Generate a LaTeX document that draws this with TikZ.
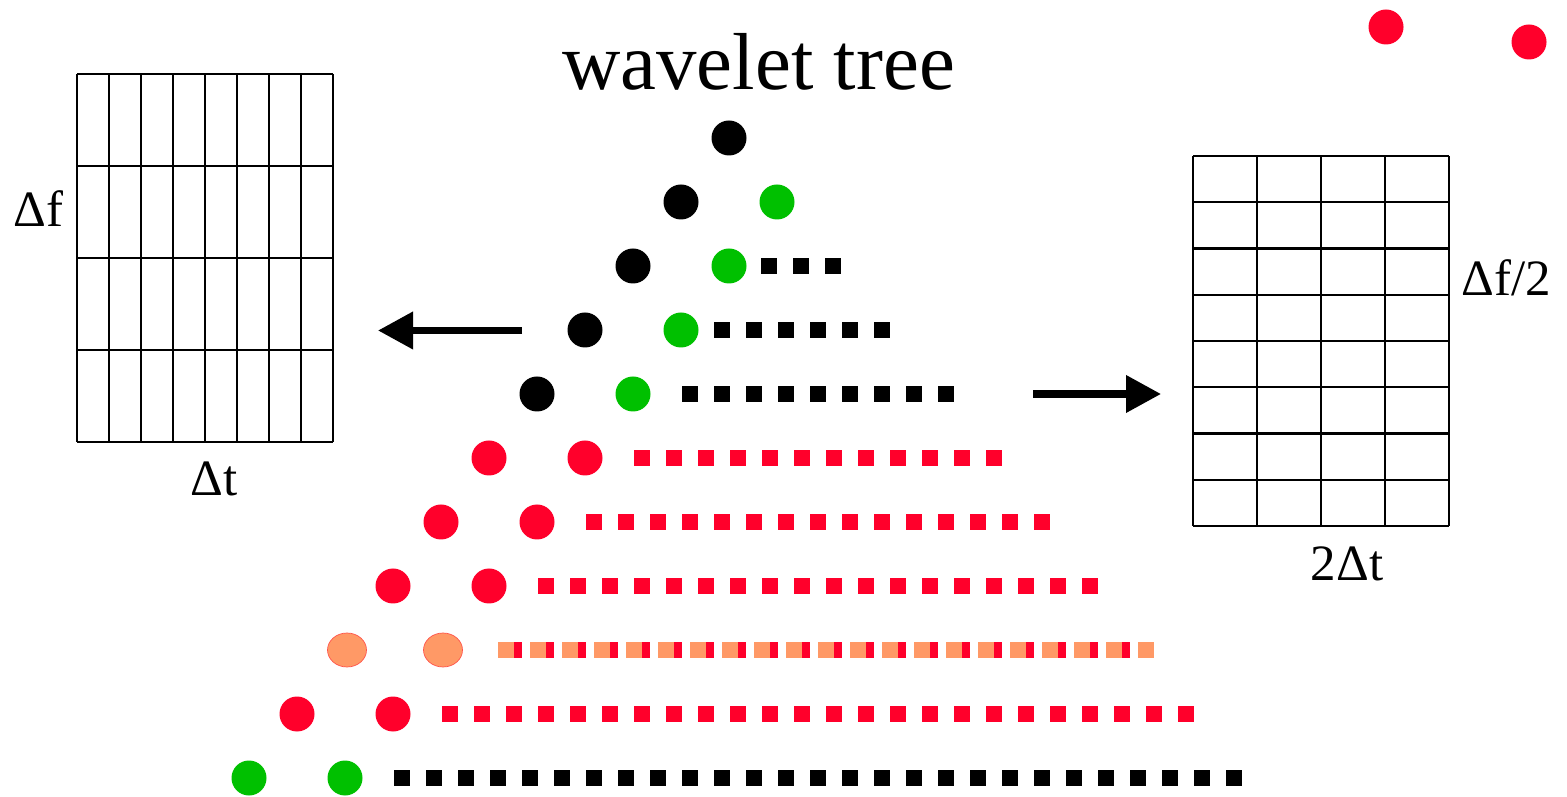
\documentclass[tikz,border=0pt]{standalone}
\usepackage{fontspec}
\setmainfont{Liberation Serif}
\usetikzlibrary{arrows.meta,shapes.geometric}
\definecolor{dotred}{RGB}{255,0,43}
\definecolor{dotgreen}{RGB}{0,192,0}
\definecolor{dotorange}{RGB}{255,153,102}
\tikzset{
  dot/.style={circle,inner sep=0pt,minimum size=3.5mm,fill=#1},
  oval/.style={ellipse,inner sep=0pt,minimum width=3.9mm,minimum height=3.4mm,
    fill=dotorange,draw=dotred!45!dotorange,line width=0.2pt},
  sq/.style={rectangle,inner sep=0pt,minimum size=1.6mm,fill=#1},
  cell/.style={line width=0.7pt},
  bigarrow/.style={line width=2pt,-{Triangle[length=3.5mm,width=3.6mm]}},
  lbl/.style={font=\fontsize{14.5}{17}\selectfont,inner sep=0pt}
}
\begin{document}
\begin{tikzpicture}[x=0.1mm,y=-0.1mm]
  \useasboundingbox (0,0) rectangle (1567,797);
  % title
  \node[font=\fontsize{23}{28}\selectfont,inner sep=0pt,anchor=base] (title) at (758.5,90) {wavelet tree};
  % the tree: row / left dot / right dot / squares / first left edge / square colour
  \node[dot=black] (a0) at (729,138) {};
  \node[dot=black] (a1) at (681,202) {};
  \node[dot=dotgreen] (b1) at (777,202) {};
  \foreach \i/\lc/\rc/\n/\s/\sc in {
      2/black/dotgreen/3/761/black,
      3/black/dotgreen/6/714/black,
      4/black/dotgreen/9/682/black,
      5/dotred/dotred/12/634/dotred,
      6/dotred/dotred/15/586/dotred,
      7/dotred/dotred/18/538/dotred,
      9/dotred/dotred/24/442/dotred,
      10/dotgreen/dotgreen/27/394/black} {
    \node[dot=\lc] (a\i) at (729-48*\i,138+64*\i) {};
    \node[dot=\rc] (b\i) at (825-48*\i,138+64*\i) {};
    \foreach \k in {1,...,\n}
      \node[sq=\sc] (s\i-\k) at (\s-24+32*\k,138+64*\i) {};
  }
  % mixed row
  \node[oval] (a8) at (347,650) {};
  \node[oval] (b8) at (443,650) {};
  \foreach \k in {0,...,19}
    \node[sq=dotred] (r8-\k) at (514+32*\k,650) {};
  \foreach \k in {0,...,20}
    \node[sq=dotorange] (s8-\k) at (506+32*\k,650) {};
  % stray dots
  \node[dot=dotred] (c1) at (1386,27) {};
  \node[dot=dotred] (c2) at (1529,42) {};
  % left grid
  \foreach \x in {0,...,8}
    \draw[cell] (77+32*\x,74) -- (77+32*\x,442);
  \foreach \y in {0,...,4}
    \draw[cell] (77,74+92*\y) -- (333,74+92*\y);
  \node[lbl,anchor=base west] (df) at (13,227) {Δf};
  \node[lbl,anchor=base west] (dt) at (190,496) {Δt};
  % right grid
  \foreach \x in {0,...,4}
    \draw[cell] (1193+64*\x,156) -- (1193+64*\x,526);
  \foreach \y in {0,...,8}
    \draw[cell] (1193,156+46.25*\y) -- (1449,156+46.25*\y);
  \node[lbl,anchor=base west] (df2) at (1461,296) {Δf/2};
  \node[lbl,anchor=base] (dt2) at (1347,581) {2Δt};
  % arrows
  \coordinate (la) at (522,330.5);
  \coordinate (lb) at (378,330.5);
  \coordinate (ra) at (1033,394);
  \coordinate (rb) at (1161,394);
  \draw[bigarrow] (la) -- (lb);
  \draw[bigarrow] (ra) -- (rb);
\end{tikzpicture}
\end{document}
